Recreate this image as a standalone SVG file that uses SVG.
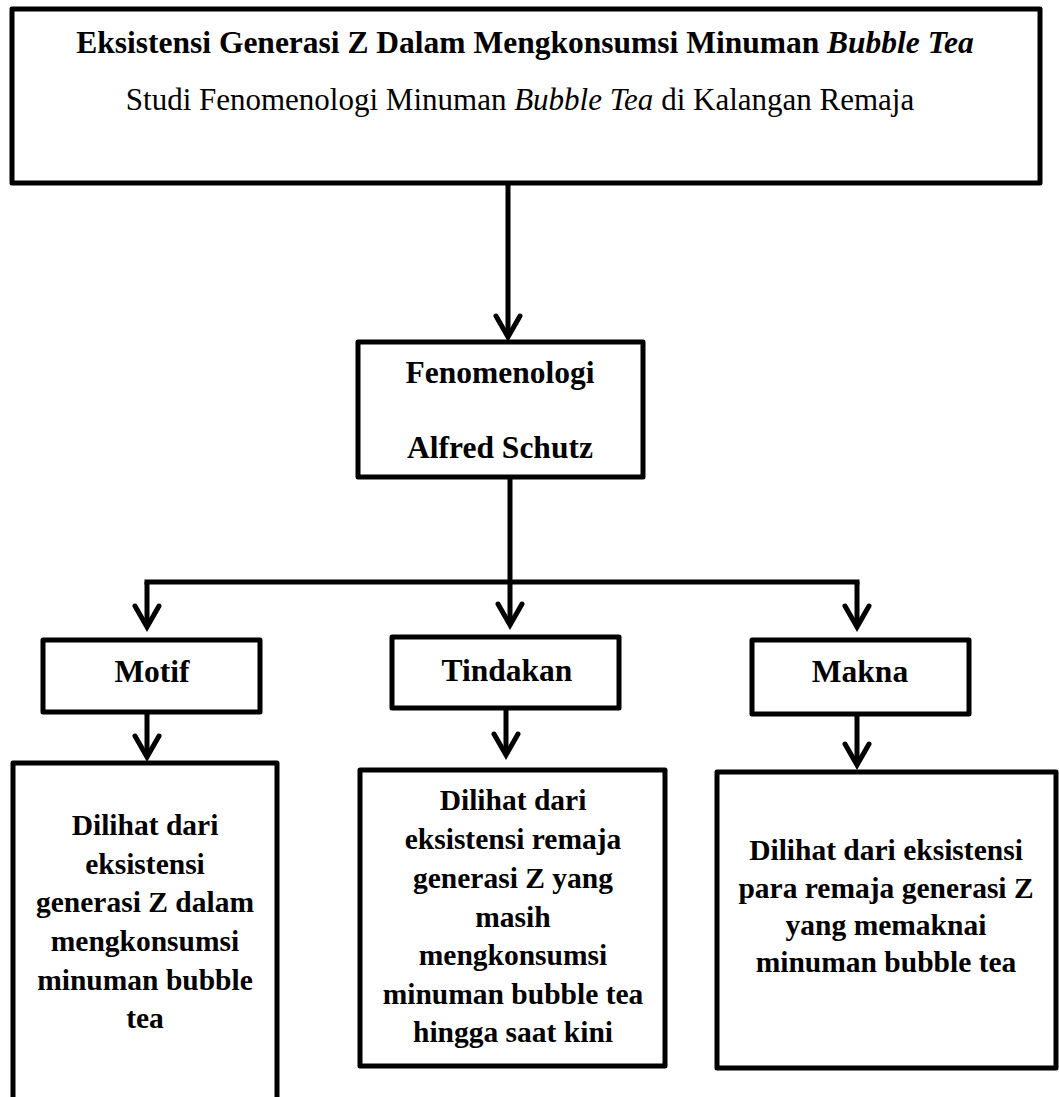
<svg xmlns="http://www.w3.org/2000/svg" width="1059" height="1097" viewBox="0 0 1059 1097">
  <style>
    .box { fill: #ffffff; stroke: #000000; stroke-width: 5; stroke-linejoin: round; }
    .conn { fill: none; stroke: #000000; stroke-width: 5; }
    .title { font-family: "Liberation Serif", "Times New Roman", serif; font-weight: bold; font-size: 31.5px; fill: #000; text-anchor: middle; }
    .sub { font-family: "Liberation Serif", "Times New Roman", serif; font-size: 31px; fill: #000; text-anchor: middle; }
    .lbl { font-family: "Liberation Serif", "Times New Roman", serif; font-weight: bold; font-size: 31.5px; fill: #000; text-anchor: middle; }
    .desc { font-family: "Liberation Serif", "Times New Roman", serif; font-weight: bold; font-size: 29.5px; fill: #000; text-anchor: middle; }
    .it { font-style: italic; }
  </style>
  <defs>
    <marker id="chev" markerUnits="userSpaceOnUse" markerWidth="40" markerHeight="40" viewBox="-30 -20 40 40" refX="0" refY="0" orient="auto" overflow="visible">
      <path d="M-21,-12 L0,0 L-21,12" fill="none" stroke="#000" stroke-width="5" stroke-linejoin="miter" stroke-linecap="round"/>
    </marker>
  </defs>
  <rect width="1059" height="1097" fill="#ffffff"/>

  <g id="connectors">
    <path class="conn" d="M508,183 V337" marker-end="url(#chev)"/>
    <path class="conn" d="M510,477 V625" marker-end="url(#chev)"/>
    <path class="conn" d="M147,582 H857" stroke-linecap="square"/>
    <path class="conn" d="M147,582 V627" marker-end="url(#chev)"/>
    <path class="conn" d="M857,582 V627" marker-end="url(#chev)"/>
    <path class="conn" d="M147,712 V757" marker-end="url(#chev)"/>
    <path class="conn" d="M506,708 V755" marker-end="url(#chev)"/>
    <path class="conn" d="M857,714 V765" marker-end="url(#chev)"/>
  </g>

  <g id="node-title">
    <rect class="box" x="12" y="9" width="1028" height="174"/>
    <text class="title" x="525" y="53">Eksistensi Generasi Z Dalam Mengkonsumsi Minuman <tspan class="it">Bubble Tea</tspan></text>
    <text class="sub" x="520" y="110">Studi Fenomenologi Minuman <tspan class="it">Bubble Tea</tspan> di Kalangan Remaja</text>
  </g>

  <g id="node-fenomenologi">
    <rect class="box" x="358" y="342" width="285" height="135"/>
    <text class="lbl" x="500" y="383">Fenomenologi</text>
    <text class="lbl" x="500" y="458">Alfred Schutz</text>
  </g>

  <g id="node-motif">
    <rect class="box" x="43" y="640" width="217" height="72"/>
    <text class="lbl" x="152" y="682">Motif</text>
  </g>

  <g id="node-tindakan">
    <rect class="box" x="392" y="637" width="227" height="71"/>
    <text class="lbl" x="507" y="681">Tindakan</text>
  </g>

  <g id="node-makna">
    <rect class="box" x="752" y="640" width="217" height="74"/>
    <text class="lbl" x="860" y="682">Makna</text>
  </g>

  <g id="node-motif-desc">
    <rect class="box" x="13" y="763" width="264" height="400"/>
    <text class="desc" x="145" y="835">Dilihat dari</text>
    <text class="desc" x="145" y="873.5">eksistensi</text>
    <text class="desc" x="145" y="912">generasi Z dalam</text>
    <text class="desc" x="145" y="951">mengkonsumsi</text>
    <text class="desc" x="145" y="989.5">minuman bubble</text>
    <text class="desc" x="145" y="1028">tea</text>
  </g>

  <g id="node-tindakan-desc">
    <rect class="box" x="360" y="770" width="305" height="296"/>
    <text class="desc" x="513" y="810">Dilihat dari</text>
    <text class="desc" x="513" y="849">eksistensi remaja</text>
    <text class="desc" x="513" y="888">generasi Z yang</text>
    <text class="desc" x="513" y="926.5">masih</text>
    <text class="desc" x="513" y="965">mengkonsumsi</text>
    <text class="desc" x="513" y="1003.5">minuman bubble tea</text>
    <text class="desc" x="513" y="1042">hingga saat kini</text>
  </g>

  <g id="node-makna-desc">
    <rect class="box" x="717" y="772" width="339" height="296"/>
    <text class="desc" x="886" y="860">Dilihat dari eksistensi</text>
    <text class="desc" x="886" y="897.5">para remaja generasi Z</text>
    <text class="desc" x="886" y="935">yang memaknai</text>
    <text class="desc" x="886" y="972">minuman bubble tea</text>
  </g>
</svg>
